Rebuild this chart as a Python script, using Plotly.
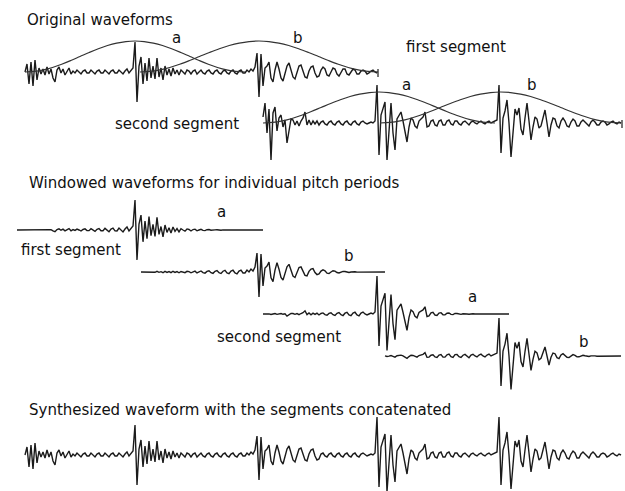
import numpy as np
import plotly.graph_objects as go

# ---------------------------------------------------------------------------
# Speech waveform samples (one sample every STEP time units, amplitude > 0 up)
# ---------------------------------------------------------------------------
STEP = 2

SEG1_T0 = 25
SEG1_ONSET = [0, 8, -12, 10, -14, 12, -8, 4, -2, 3, -3, 5, -2, 3, -6, -10, 2, 5,
              -1, 3, -3, 1, 4, -2, 1, -1, 2, 0, -2, 1, 2, -1, -1, 2, 0, -2, 1, 2,
              -1, -1, 2, 0, -2, 1, 2, -1, -1, 2, 0, -2, 1, 3, -1, 2, 4]
SEG1_PERIOD_A = [30, -30, 6, 15, -12, 9, -9, 14, -6, 6, -7, 14, -5, 4, -8, 6, -3,
                 3, -4, 4, -2, 2, -3, 2, 0, -2, 2, 1, -2, 1, 2, -2, 0, 2, -1, -2,
                 1, 2, -1, -2, 1, 2, -1, -2, 1, 2, -1, -2, 1, 2, -1, -2, 1, 2, -1,
                 -1, 2, 0, 3, 1]
SEG1_PERIOD_B = [5, 19, -25, 18, -14, 4, 6, 10, -6, -10, 2, 10, 3, -6, -9, 0, 6, 9,
                 2, -5, -7, 0, 6, 7, 0, -5, -6, 1, 5, 6, -1, -5, -4, 2, 5, 3, -3,
                 -4, 0, 4, 3, -2, -4, 0, 3, 3, -2, -3, 0, 3, 2, -2, -2, 1, 2, 1,
                 -2, -1, 1, 2, 0, -1]

SEG2_T0 = 263
SEG2_ONSET = [6, 20, -10, 14, -37, 10, 16, -8, 5, 8, -4, 3, -20, -6, 4, 3, -2, 2,
              -3, 2, 5, 11, -2, 3, -2, 2, -1, 2, -2, 1, 2, -1, -2, 1, 2, -1, -2,
              1, 2, -1, -2, 1, 2, -1, -2, 1, 2, -1, -2, 1, 2, 0, -1, 0, 1, 0, 2]
SEG2_PERIOD_A = [38, -32, 8, 16, 21, -37, -10, 20, -10, -27, 4, 8, 11, 2, -8, -19,
                 -4, 5, 3, -3, -5, 2, 4, 6, 11, -4, -3, 2, 3, -2, -3, 2, 3, -2, -2,
                 2, 3, -1, -2, 2, 2, -1, -2, 1, 2, 0, -2, 1, 2, 0, -1, 1, 2, 0, -1,
                 1, 2, 0, 1, 2, 3]
SEG2_PERIOD_B = [38, -30, 5, 12, 23, 0, -34, -8, 14, 8, 15, -6, -12, 5, 20, 2, -17,
                 -4, 6, 4, -5, -3, 6, 13, 0, -14, -2, 5, 4, -3, -5, 2, 5, 2, -3,
                 -4, 1, 4, 2, -3, -3, 1, 3, 1, -2, -3, 1, 3, 1, -2, -2, 1, 2, 1,
                 -2, -1, 1, 2, 0, -1, 1, 0]

# Analysis window (tabulated Hann shape over its normalised span)
WINDOW_POS = np.linspace(0.0, 1.0, 25)
WINDOW_SHAPE = [0.0, 0.017, 0.067, 0.146, 0.25, 0.371, 0.5, 0.629, 0.75, 0.854,
                0.933, 0.983, 1.0, 0.983, 0.933, 0.854, 0.75, 0.629, 0.5, 0.371,
                0.25, 0.146, 0.067, 0.017, 0.0]
WINDOW_PEAK = 31

# Window extents (start, end) for pitch periods a and b of each segment
SEG1_WINDOWS = [(25, 245), (140, 378)]
SEG2_WINDOWS = [(263, 495), (380, 621)]
PERIOD_LABELS = ["a", "b"]

# Extent of each windowed pitch period as drawn
ROW_SPANS = [(17, 263), (141, 385), (263, 509), (385, 621)]
SPLICE_TIME = 320

# ---------------------------------------------------------------------------
INK = "#1b1b1b"
FONT = dict(family="DejaVu Sans", size=15, color="#111111")

grid = np.arange(17, 623, STEP)


def on_grid(t0, values):
    s = np.full(grid.shape, np.nan)
    i0 = (t0 - grid[0]) // STEP
    s[i0:i0 + len(values)] = values
    return s


def window_on_grid(t0, t1):
    return np.interp((grid - t0) / (t1 - t0), WINDOW_POS, WINDOW_SHAPE,
                     left=0.0, right=0.0)


seg1 = on_grid(SEG1_T0, SEG1_ONSET + SEG1_PERIOD_A + SEG1_PERIOD_B)
seg2 = on_grid(SEG2_T0, SEG2_ONSET + SEG2_PERIOD_A + SEG2_PERIOD_B)

fig = go.Figure()


def add_line(x, y, width=1.4, color=INK, shape="linear"):
    fig.add_trace(go.Scatter(x=x, y=y, mode="lines", hoverinfo="skip",
                             showlegend=False,
                             line=dict(color=color, width=width, shape=shape)))


def add_text(x, y, text, anchor="left"):
    fig.add_annotation(x=x, y=y, text=text, showarrow=False, xanchor=anchor,
                       yanchor="middle", font=FONT)


# --- Original waveforms with their analysis windows -----------------------
top_label_pos = [[(176, 38), (298, 38)], [(406, 85), (532, 85)]]
for seg, base, windows, label_pos in [(seg1, 72, SEG1_WINDOWS, top_label_pos[0]),
                                      (seg2, 123, SEG2_WINDOWS, top_label_pos[1])]:
    m = ~np.isnan(seg)
    add_line(grid[m], base - seg[m])
    for (t0, t1), lab, (lx, ly) in zip(windows, PERIOD_LABELS, label_pos):
        wx = t0 + WINDOW_POS * (t1 - t0)
        wy = base - WINDOW_PEAK * np.asarray(WINDOW_SHAPE)
        add_line(wx, wy, width=1.2, color="#333333", shape="spline")
        add_text(lx, ly, lab, anchor="center")
    end_t = grid[m][-1] + 1
    add_line([end_t, end_t], [base - 3, base + 5], width=1.2)

add_text(25, 20, "Original waveforms")
add_text(404, 47, "first segment")
add_text(113, 124, "second segment")

# --- Windowed waveforms for individual pitch periods -----------------------
row_sources = [(seg1, SEG1_WINDOWS[0]), (seg1, SEG1_WINDOWS[1]),
               (seg2, SEG2_WINDOWS[0]), (seg2, SEG2_WINDOWS[1])]
row_bases = [230, 272, 314, 356]
row_label_pos = [(221, 212), (349, 256), (472, 297), (584, 342)]
for (src, (t0, t1)), (r0, r1), base, lab, (lx, ly) in zip(
        row_sources, ROW_SPANS, row_bases, PERIOD_LABELS * 2, row_label_pos):
    w = window_on_grid(t0, t1)
    piece = np.nan_to_num(src) * w
    m = (grid >= r0) & (grid <= r1)
    add_line(grid[m], base - piece[m])
    add_text(lx, ly, lab, anchor="center")

add_text(27, 183, "Windowed waveforms for individual pitch periods")
add_text(19, 250, "first segment")
add_text(215, 337, "second segment")

# --- Synthesized waveform: segments concatenated ---------------------------
synth = np.where(grid < SPLICE_TIME, seg1, seg2)
m = ~np.isnan(synth)
add_line(grid[m], 455 - synth[m])
add_text(27, 410, "Synthesized waveform with the segments concatenated")

fig.update_layout(
    width=625, height=491,
    margin=dict(l=0, r=0, t=0, b=0),
    paper_bgcolor="white", plot_bgcolor="white",
    xaxis=dict(range=[0, 625], visible=False, fixedrange=True),
    yaxis=dict(range=[491, 0], visible=False, fixedrange=True),
    showlegend=False,
)

fig.write_html("out.html")
